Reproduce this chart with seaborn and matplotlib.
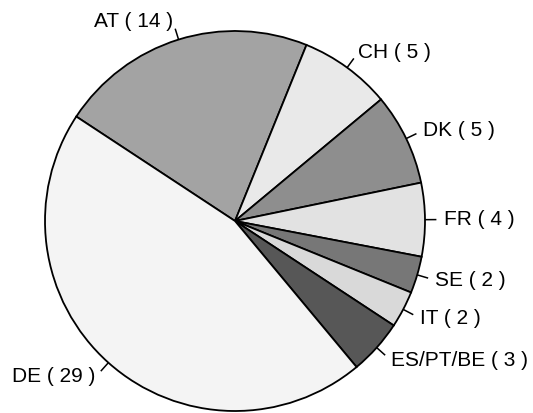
import numpy as np
import matplotlib
matplotlib.use("Agg")
import matplotlib.pyplot as plt
import seaborn as sns

# Participants per country
countries = ["AT", "CH", "DK", "FR", "SE", "IT", "ES/PT/BE", "DE"]
counts = [14, 5, 5, 4, 2, 2, 3, 29]
shades = ["#a3a3a3", "#e9e9e9", "#8e8e8e", "#e2e2e2", "#777777", "#d9d9d9", "#575757", "#f4f4f4"]

sns.set_theme(style="white")
plt.rcParams["font.family"] = ["Liberation Sans", "DejaVu Sans"]

W, H = 533, 413
cx, cy, R = 235, 221, 190

fig = plt.figure(figsize=(W / 100, H / 100), dpi=100)
ax = fig.add_axes([0, 0, 1, 1])

labels = [f"{c} ( {n} )" for c, n in zip(countries, counts)]
wedges, _ = ax.pie(
    counts,
    colors=sns.color_palette(shades),
    startangle=146.65,
    counterclock=False,
    radius=1.0,
    frame=True,
    wedgeprops=dict(edgecolor="black", linewidth=1.3),
)
ax.set_xlim(-cx / R, (W - cx) / R)
ax.set_ylim(-(H - cy) / R, cy / R)
ax.set_axis_off()

for w, lab in zip(wedges, labels):
    mid = np.deg2rad((w.theta1 + w.theta2) / 2)
    c, s = np.cos(mid), np.sin(mid)
    ax.plot([c * 1.0, c * 1.06], [s * 1.0, s * 1.06], color="black", lw=1.1,
            solid_capstyle="butt")
    ax.text(c * 1.1, s * 1.1, lab, ha="left" if c > 0 else "right", va="center",
            fontsize=15, color="black")

fig.savefig("out.png", dpi=100)
